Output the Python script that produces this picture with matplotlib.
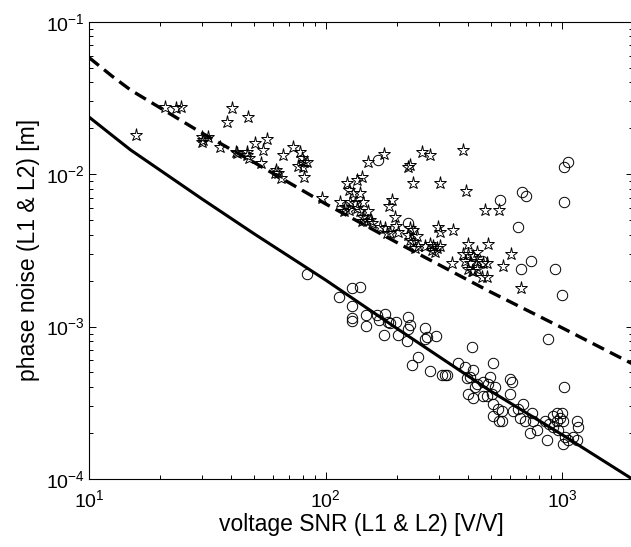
#!/usr/bin/env python3
"""
Phase noise vs voltage SNR (log-log), with two model curves and measured points.
"""

import matplotlib
matplotlib.use('Agg')
import matplotlib.pyplot as plt

plt.rcParams['font.family'] = ['Liberation Sans', 'DejaVu Sans']
plt.rcParams['mathtext.fontset'] = 'custom'
plt.rcParams['mathtext.rm'] = 'Liberation Sans'
plt.rcParams['mathtext.it'] = 'Liberation Sans:italic'
plt.rcParams['mathtext.bf'] = 'Liberation Sans:bold'

# Model curves
curve_snr = [10, 12.5, 15, 20, 30, 50, 100, 200, 500, 1000, 2000]
solid_noise = [0.0237, 0.0180, 0.0144, 0.0106, 0.00688, 0.00405, 0.00202,
               0.000972, 0.000376, 0.000195, 0.0000988]
dashed_noise = [0.0582, 0.0440, 0.0356, 0.0272, 0.0186, 0.0119, 0.00638,
                0.00356, 0.00168, 0.00098, 0.000565]

# Star markers
star_snr = [
    15.8, 21.0, 23.3, 24.5, 40.2, 38.3, 47.0, 30.0, 30.3, 31.8,
    30.0, 35.8, 41.8, 42.3, 46.6, 47.5, 46.6, 50.3, 54.4, 56.6,
    53.4, 61.7, 63.0, 64.8, 61.2, 66.1, 72.9, 78.0, 79.6, 81.1,
    83.5, 76.5, 80.3, 81.1, 96.6, 151, 177, 256, 277, 223,
    228, 234, 305, 123, 136, 143, 125, 131, 140, 115,
    121, 127, 133, 144, 119, 125, 136, 140, 144, 151,
    154, 150, 143, 157, 191, 186, 197, 199, 170, 179,
    182, 187, 203, 228, 234, 223, 244, 228, 234, 246,
    239, 264, 277, 285, 296, 290, 305, 282, 299, 305,
    346, 343, 382, 393, 473, 542, 401, 437, 487, 382,
    401, 420, 389, 408, 437, 463, 482, 401, 416, 437,
    459, 482, 420, 609, 563, 671,
]
star_noise = [
    0.0181, 0.0276, 0.0272, 0.0276, 0.0272, 0.0220, 0.0237, 0.0176, 0.0168, 0.0176,
    0.0163, 0.0151, 0.0140, 0.0138, 0.0140, 0.0128, 0.0134, 0.0160, 0.0144, 0.0170,
    0.0118, 0.0107, 0.0102, 0.0094, 0.0102, 0.0134, 0.0151, 0.0140, 0.0128, 0.0120,
    0.0120, 0.0113, 0.0112, 0.0096, 0.0070, 0.0120, 0.0136, 0.0140, 0.0134, 0.0112,
    0.0115, 0.0088, 0.0088, 0.0088, 0.0092, 0.0096, 0.0079, 0.0075, 0.0075, 0.0066,
    0.0061, 0.0066, 0.0065, 0.0066, 0.0057, 0.0058, 0.0060, 0.0057, 0.0052, 0.0057,
    0.0050, 0.0049, 0.0049, 0.0048, 0.0068, 0.0062, 0.0052, 0.0046, 0.0045, 0.0044,
    0.0041, 0.0041, 0.0042, 0.0044, 0.0043, 0.0040, 0.0039, 0.0037, 0.0036, 0.0034,
    0.0033, 0.0034, 0.0035, 0.0034, 0.0033, 0.0031, 0.0034, 0.0032, 0.0045, 0.0042,
    0.0043, 0.0026, 0.0144, 0.0078, 0.0058, 0.0058, 0.0035, 0.0031, 0.0035, 0.0030,
    0.0030, 0.0029, 0.0027, 0.0026, 0.0027, 0.0026, 0.0026, 0.0024, 0.0023, 0.0024,
    0.0021, 0.0021, 0.0023, 0.0030, 0.0025, 0.0018,
]

# Circle markers
circ_snr = [
    167, 223, 547, 678, 704, 1020, 1060, 1020, 652, 459,
    671, 739, 934, 1000, 873, 1020, 83.5, 129, 140, 114,
    129, 129, 129, 148, 148, 165, 179, 168, 184, 199,
    187, 177, 203, 223, 228, 223, 221, 264, 264, 269,
    293, 246, 232, 277, 311, 320, 326, 416, 363, 389,
    420, 408, 397, 429, 437, 463, 496, 487, 511, 401,
    420, 463, 482, 506, 521, 511, 536, 558, 603, 615,
    603, 511, 542, 558, 621, 652, 684, 664, 698, 747,
    754, 732, 784, 848, 864, 916, 953, 1000, 981, 1010,
    953, 916, 962, 1157, 1168, 1030, 1060, 1113, 1157, 1010,
    881,
]
circ_noise = [
    0.0124, 0.0048, 0.0068, 0.0076, 0.0072, 0.0112, 0.0120, 0.0066, 0.0045, 0.0027,
    0.0024, 0.0027, 0.0024, 0.0016, 0.00083, 0.00040, 0.00222, 0.00179, 0.00182, 0.00157,
    0.00137, 0.00114, 0.00109, 0.00119, 0.00101, 0.00119, 0.00121, 0.00111, 0.00107, 0.00107,
    0.00106, 0.00088, 0.00088, 0.00116, 0.00103, 0.00097, 0.00081, 0.00098, 0.00083, 0.00086,
    0.00087, 0.00063, 0.00056, 0.00051, 0.00048, 0.00048, 0.00048, 0.00074, 0.00058, 0.00054,
    0.00052, 0.00047, 0.00046, 0.00040, 0.00042, 0.00043, 0.00047, 0.00042, 0.00058, 0.00036,
    0.00034, 0.00035, 0.00035, 0.00036, 0.00040, 0.00031, 0.00029, 0.00028, 0.00045, 0.00043,
    0.00036, 0.00026, 0.00024, 0.00024, 0.00028, 0.00029, 0.00031, 0.00025, 0.00024, 0.00027,
    0.00024, 0.00020, 0.00021, 0.00024, 0.00018, 0.00026, 0.00027, 0.00027, 0.00025, 0.00024,
    0.00024, 0.00022, 0.00021, 0.00024, 0.00022, 0.00019, 0.00018, 0.00019, 0.00018, 0.00017,
    0.00023,
]

W, H = 631, 547
fig = plt.figure(figsize=(W / 100, H / 100), dpi=100)
# axes box in pixels: left 89, right ~633 (cut off), top ~22, bottom 479
ax = fig.add_axes([89 / W, 1 - 479 / H, (633.5 - 89) / W, (479 - 21.7) / H])

ax.plot(curve_snr, solid_noise, color='black', lw=2.2)
ax.plot(curve_snr, dashed_noise, color='black', lw=2.4, ls=(0, (3.8, 2.0)))
ax.plot(star_snr, star_noise, ls='none', marker='*', ms=9.5,
        mfc='none', mec='black', mew=0.7)
ax.plot(circ_snr, circ_noise, ls='none', marker='o', ms=7.5,
        mfc='none', mec='black', mew=0.7)

ax.set_xscale('log')
ax.set_yscale('log')
ax.set_xlim(10, 2000)
ax.set_ylim(1e-4, 1e-1)

ax.tick_params(which='both', direction='in', top=True, right=True, width=0.7)
ax.tick_params(which='major', length=5, labelsize=14)
ax.tick_params(which='minor', length=3)
ax.tick_params(axis='x', pad=7)
ax.tick_params(axis='y', pad=3)
for sp in ax.spines.values():
    sp.set_linewidth(0.8)

ax.set_xlabel('voltage SNR (L1 & L2) [V/V]', fontsize=16.5, labelpad=2)
ax.set_ylabel('phase noise (L1 & L2) [m]', fontsize=16.5, labelpad=4)

fig.savefig('out.png', dpi=100)
